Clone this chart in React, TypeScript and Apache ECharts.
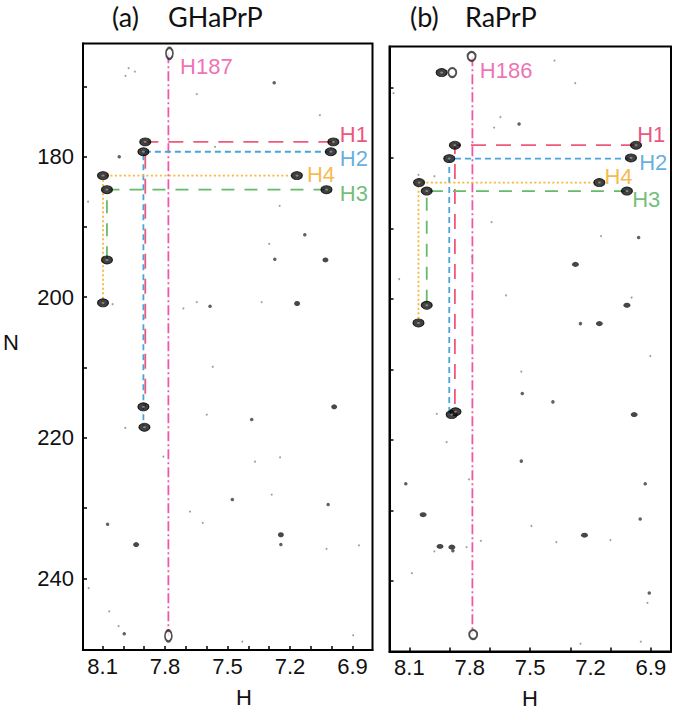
import { useEffect, useRef } from 'react';
import * as echarts from 'echarts';

// axis ticks / labels (H in ppm, N in ppm)
const xTicksA = [8.1, 8.0, 7.9, 7.8, 7.7, 7.6, 7.5, 7.4, 7.3, 7.2, 7.1, 7.0, 6.9];
const xTicksB = [8.1, 7.9, 7.7, 7.5, 7.3, 7.1, 6.9];
const xLabels = [8.1, 7.8, 7.5, 7.2, 6.9];
const yTicks = [170, 180, 190, 200, 210, 220, 230, 240];
const yLabels = [180, 200, 220, 240];

// ---- panel (a) GHaPrP ----
const aH187 = [[7.784, 165.3], [7.784, 248.2]];
const aH1 = [[6.992, 177.9], [7.895, 177.9], [7.895, 215.6]];
const aH2 = [[7.004, 179.3], [7.904, 179.3], [7.904, 218.5]];
const aH4 = [[7.167, 182.7], [8.098, 182.7], [8.098, 200.8]];
const aH3 = [[7.025, 184.7], [8.079, 184.7], [8.079, 194.7]];
const aPeaks = [
  [7.895, 177.9], [6.992, 177.9], [7.904, 179.3], [7.004, 179.3],
  [8.098, 182.7], [7.167, 182.7], [8.079, 184.7], [7.025, 184.7], [8.079, 194.7],
  [8.098, 200.8], [7.904, 215.6], [7.899, 218.5],
];
const aEnds = [[7.779, 165.3], [7.784, 248.2]];
const aSpots = [
  [7.030, 194.7], [7.166, 200.9], [7.939, 235.2], [7.244, 233.8], [6.988, 215.6],
];
const aSmall = [
  [7.273, 194.6], [7.584, 201.3], [7.384, 217.4], [7.244, 235.2], [7.017, 229.5],
  [7.477, 228.8], [7.276, 169.5], [8.020, 180.0], [7.129, 191.1], [7.996, 247.9],
  [8.076, 232.3],
];
const aSpecks = [
  [7.288, 228.1], [7.248, 222.8], [7.368, 223.4], [7.600, 216.7], [7.571, 209.9],
  [7.712, 201.6], [7.991, 218.6], [7.808, 222.7], [7.680, 230.5], [7.619, 232.1],
  [7.025, 235.8], [6.869, 235.3], [8.068, 244.7], [8.023, 246.8], [7.429, 249.0],
  [6.897, 248.1], [8.167, 241.4], [8.052, 201.0], [7.336, 200.7], [7.648, 200.7],
  [7.975, 167.4], [7.945, 167.9], [7.990, 168.5], [7.648, 171.1], [7.057, 174.1],
  [8.170, 186.4], [7.560, 178.6], [7.250, 187.0], [7.300, 192.4],
];
const aLabels: [number, number, string][] = [
  [7.728, 167.2, 'H187'], [6.961, 176.9, 'H1'], [6.961, 180.2, 'H2'],
  [7.119, 182.6, 'H4'], [6.961, 185.2, 'H3'],
];

// ---- panel (b) RaPrP ----
const bH186 = [[7.787, 165.6], [7.787, 247.6]];
const bH1 = [[6.974, 178.2], [7.874, 178.2], [7.874, 216.0]];
const bH2 = [[6.999, 180.1], [7.902, 180.1], [7.902, 216.4]];
const bH4 = [[7.156, 183.5], [8.055, 183.5], [8.055, 203.4]];
const bH3 = [[7.019, 184.7], [8.014, 184.7], [8.014, 200.9]];
const bPeaks = [
  [7.874, 178.2], [6.974, 178.2], [7.902, 180.1], [6.999, 180.0],
  [8.052, 183.5], [7.156, 183.5], [8.014, 184.7], [7.019, 184.7], [8.014, 200.9],
  [8.055, 203.4], [7.890, 216.4], [7.871, 216.0], [7.940, 167.9],
];
const bEnds = [[7.791, 165.6], [7.783, 247.6], [7.887, 167.9]];
const bSpots = [
  [7.275, 195.1], [7.019, 200.9], [7.156, 203.5],
  [6.983, 216.4], [8.032, 230.6], [7.948, 235.1], [7.889, 235.2], [7.230, 233.5],
];
const bSmall = [
  [7.250, 203.5], [6.961, 191.3], [7.539, 213.4], [7.387, 214.6], [7.544, 223.0],
  [8.118, 226.2], [6.928, 226.2], [6.953, 231.2], [6.908, 241.7], [7.555, 175.2],
  [7.884, 235.7],
];
const bSpecks = [
  [7.976, 235.8], [7.816, 235.2], [8.151, 197.2], [7.788, 194.0], [7.692, 189.1],
  [7.148, 191.1], [6.996, 199.8], [6.903, 208.1], [7.544, 210.3], [7.964, 216.3],
  [7.915, 220.3], [7.804, 225.6], [7.788, 228.7], [7.494, 232.2], [7.745, 234.3],
  [7.370, 234.5], [7.101, 234.2], [8.088, 238.9], [6.917, 243.1], [6.950, 248.6],
  [7.379, 166.2], [7.276, 169.4], [7.648, 174.2], [7.679, 175.7], [8.179, 170.8],
  [8.055, 182.4], [7.976, 182.6], [7.250, 248.9], [7.620, 199.5],
];
const bLabels: [number, number, string][] = [
  [7.750, 167.6, 'H186'], [6.968, 176.7, 'H1'], [6.958, 180.7, 'H2'],
  [7.131, 182.7, 'H4'], [6.993, 185.9, 'H3'],
];

const SANS = 'Liberation Sans';
const TITLE = 'Lato';
const labelColors: Record<string, string> = {
  H1: '#e8265a', H2: '#3d9bd6', H3: '#4cae54', H4: '#f4a81c', H186: '#ec4b9f', H187: '#ec4b9f',
};

export default function App() {
  const chartRef = useRef<HTMLDivElement>(null);

  useEffect(() => {
    if (!chartRef.current) return;
    const chart = echarts.init(chartRef.current, null, { renderer: 'svg' });

    const xAxis = (gridIndex: number, min: number, max: number, ticks: number[]) => ({
      type: 'value', gridIndex, min, max, inverse: true,
      axisLine: { show: true, onZero: false, lineStyle: { color: '#000', width: 2 } },
      axisTick: { show: true, inside: true, length: 4, customValues: ticks, lineStyle: { color: '#000', width: 1.5 } },
      axisLabel: {
        customValues: xLabels, formatter: (v: number) => v.toFixed(1),
        color: '#111', fontSize: 22, fontFamily: SANS, margin: 5,
      },
      splitLine: { show: false },
    });
    const yAxis = (gridIndex: number, min: number, max: number, labels: boolean) => ({
      type: 'value', gridIndex, min, max, inverse: true,
      axisLine: { show: true, onZero: false, lineStyle: { color: '#000', width: 2 } },
      axisTick: { show: true, inside: true, length: 4, customValues: yTicks, lineStyle: { color: '#000', width: 1.5 } },
      axisLabel: {
        show: labels, customValues: yLabels,
        color: '#111', fontSize: 22, fontFamily: SANS, margin: 9,
      },
      splitLine: { show: false },
    });

    const guide = (i: number, data: number[][], color: string, dash: number[]) => ({
      type: 'line', xAxisIndex: i, yAxisIndex: i, data, symbol: 'none', z: 2,
      lineStyle: { color, width: 1.8, type: dash },
    });
    const dots = (i: number, data: number[][], size: number | number[], style: any, z = 4) => ({
      type: 'scatter', xAxisIndex: i, yAxisIndex: i, data, symbol: 'circle',
      symbolSize: size, itemStyle: style, z,
    });
    const tags = (i: number, data: [number, number, string][]) => ({
      type: 'scatter', xAxisIndex: i, yAxisIndex: i, symbolSize: 0, z: 6,
      data: data.map(d => ({
        value: d,
        label: {
          show: true, position: 'right', distance: 0, formatter: d[2],
          color: labelColors[d[2]], fontSize: 22, fontFamily: SANS,
        },
      })),
    });
    const blob = { color: '#111', borderColor: '#000', borderWidth: 1 };
    const hole = { color: '#9a9a9a' };
    const ring = { color: '#fff', borderColor: '#222', borderWidth: 2 };

    chart.setOption({
      animation: false,
      backgroundColor: '#fff',
      grid: [
        { left: 83, top: 43.5, width: 289.5, height: 606.5, show: true, borderColor: '#000', borderWidth: 2, outerBoundsMode: 'none' },
        { left: 389.5, top: 46.5, width: 281.5, height: 605, show: true, borderColor: '#000', borderWidth: 2, outerBoundsMode: 'none' },
      ],
      xAxis: [xAxis(0, 6.804, 8.194, xTicksA), xAxis(1, 6.8, 8.199, xTicksB)],
      yAxis: [yAxis(0, 163.9, 250.2, true), yAxis(1, 164.2, 250.0, false)],
      series: [
        guide(0, aH187, '#ee58ac', [10, 3, 2, 3]),
        guide(0, aH1, '#f0587a', [15, 10]),
        guide(0, aH2, '#4aa3dc', [6, 4]),
        guide(0, aH4, '#f7b733', [2, 2.5]),
        guide(0, aH3, '#66bb6a', [13, 10]),
        dots(0, aSpecks, 2, { color: '#8a8a8a' }),
        dots(0, aSmall, 3.5, { color: '#3a3a3a' }),
        dots(0, aSpots, [6, 5], { color: '#1a1a1a' }),
        dots(0, aPeaks, [11, 8], blob),
        dots(0, aPeaks, [3, 2], hole, 5),
        dots(0, aEnds, [7, 11], ring),
        tags(0, aLabels),

        guide(1, bH186, '#ee58ac', [10, 3, 2, 3]),
        guide(1, bH1, '#f0587a', [15, 10]),
        guide(1, bH2, '#4aa3dc', [6, 4]),
        guide(1, bH4, '#f7b733', [2, 2.5]),
        guide(1, bH3, '#66bb6a', [13, 10]),
        dots(1, bSpecks, 2, { color: '#8a8a8a' }),
        dots(1, bSmall, 3.5, { color: '#3a3a3a' }),
        dots(1, bSpots, [7, 5], { color: '#1a1a1a' }),
        dots(1, bPeaks, [11, 8], blob),
        dots(1, bPeaks, [3, 2], hole, 5),
        dots(1, bEnds, [8, 9], ring),
        tags(1, bLabels),
      ],
      graphic: [
        { type: 'text', x: 112, y: 16, style: { text: '(a)', fontSize: 27, fontFamily: TITLE, fill: '#111', verticalAlign: 'middle' } },
        { type: 'text', x: 168, y: 16, style: { text: 'GHaPrP', fontSize: 27, fontFamily: TITLE, fill: '#111', verticalAlign: 'middle' } },
        { type: 'text', x: 410, y: 16, style: { text: '(b)', fontSize: 27, fontFamily: TITLE, fill: '#111', verticalAlign: 'middle' } },
        { type: 'text', x: 465, y: 16, style: { text: 'RaPrP', fontSize: 27, fontFamily: TITLE, fill: '#111', verticalAlign: 'middle' } },
        { type: 'text', x: 11, y: 342, style: { text: 'N', fontSize: 22, fontFamily: SANS, fill: '#111', align: 'center', verticalAlign: 'middle' } },
        { type: 'text', x: 244, y: 697, style: { text: 'H', fontSize: 22, fontFamily: SANS, fill: '#111', align: 'center', verticalAlign: 'middle' } },
        { type: 'text', x: 530, y: 698, style: { text: 'H', fontSize: 22, fontFamily: SANS, fill: '#111', align: 'center', verticalAlign: 'middle' } },
      ],
    });

    const handleResize = () => chart.resize();
    window.addEventListener('resize', handleResize);
    return () => { window.removeEventListener('resize', handleResize); chart.dispose(); };
  }, []);

  return (
    <div
      ref={chartRef}
      style={{ position: 'fixed', left: 0, top: 0, width: 675, height: 711, background: '#fff' }}
    />
  );
}
